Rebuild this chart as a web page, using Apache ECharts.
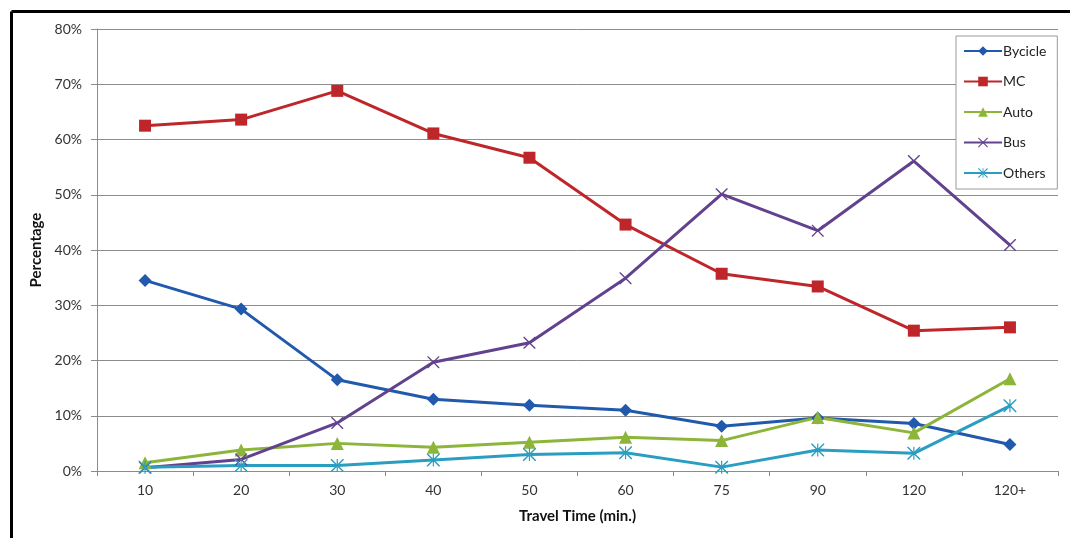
<!DOCTYPE html>
<html>
<head>
<meta charset="utf-8">
<script src="https://cdn.jsdelivr.net/npm/echarts@6/dist/echarts.min.js"></script>
<style>
  html, body { margin: 0; padding: 0; background: #fff; }
  #chart { width: 1070px; height: 538px; }
</style>
</head>
<body>
<div id="chart"></div>
<script>
// Travel time categories (minutes)
var categories = ['10', '20', '30', '40', '50', '60', '75', '90', '120', '120+'];

// Mode share by travel time (%)
var bycicle = [34.5, 29.3, 16.5, 13.0, 11.9, 11.0, 8.1, 9.6, 8.6, 4.8];
var mc      = [62.5, 63.6, 68.8, 61.1, 56.7, 44.6, 35.7, 33.4, 25.4, 26.0];
var auto    = [1.5, 3.8, 5.0, 4.3, 5.2, 6.1, 5.5, 9.7, 6.9, 16.7];
var bus     = [0.6, 2.1, 8.7, 19.7, 23.2, 34.9, 50.1, 43.5, 56.1, 40.9];
var others  = [0.7, 1.0, 1.0, 2.0, 3.0, 3.3, 0.7, 3.8, 3.2, 11.8];

var yTicks = [0, 10, 20, 30, 40, 50, 60, 70, 80];

// Marker shapes for the Bus (x) and Others (asterisk) series
var xPath = 'path://M0,0 L1.6,0 L10,8.4 L18.4,0 L20,0 L20,1.6 L11.6,10 L20,18.4 L20,20 L18.4,20 L10,11.6 L1.6,20 L0,20 L0,18.4 L8.4,10 L0,1.6 Z';
var starPath = xPath + ' M9.1,0 L10.9,0 L10.9,20 L9.1,20 Z';

var font = 'Lato, "Open Sans", sans-serif';

function makeSeries(name, data, color, symbol, size) {
  return {
    name: name,
    type: 'line',
    data: data,
    symbol: symbol,
    symbolSize: size,
    showAllSymbol: true,
    lineStyle: { color: color, width: 3 },
    itemStyle: { color: color },
    emphasis: { disabled: true },
    animation: false,
    z: 3
  };
}

var chart = echarts.init(document.getElementById('chart'), null, { renderer: 'canvas' });

chart.setOption({
  backgroundColor: '#ffffff',
  animation: false,
  grid: { left: 97, right: 12, top: 29, bottom: 67, containLabel: false },
  legend: {
    orient: 'vertical',
    left: 956,
    top: 36,
    padding: [8, 11, 9, 7],
    itemWidth: 38,
    itemHeight: 12,
    itemGap: 16.5,
    borderColor: '#9a9a9a',
    borderWidth: 1,
    backgroundColor: '#ffffff',
    textStyle: { fontFamily: font, fontSize: 14, lineHeight: 14, color: '#222', padding: [0, 0, 0, -4] },
    data: ['Bycicle', 'MC', 'Auto', 'Bus', 'Others']
  },
  xAxis: {
    type: 'category',
    data: categories,
    boundaryGap: true,
    name: 'Travel Time (min.)',
    nameLocation: 'middle',
    nameGap: 38,
    nameTextStyle: { fontFamily: font, fontSize: 15, fontWeight: 'bold', color: '#111' },
    axisLine: { lineStyle: { color: '#8c8c8c', width: 1 } },
    axisTick: { show: true, length: 5, lineStyle: { color: '#8c8c8c' } },
    axisLabel: { fontFamily: font, fontSize: 14, color: '#333', margin: 12 },
    splitLine: { show: false }
  },
  yAxis: {
    type: 'value',
    min: yTicks[0],
    max: yTicks[yTicks.length - 1],
    interval: 10,
    name: 'Percentage',
    nameLocation: 'middle',
    nameGap: 48,
    nameRotate: 90,
    nameTextStyle: { fontFamily: font, fontSize: 15, fontWeight: 'bold', color: '#111' },
    axisLine: { show: true, lineStyle: { color: '#8c8c8c', width: 1 } },
    axisTick: { show: true, length: 6, lineStyle: { color: '#8c8c8c' } },
    axisLabel: { fontFamily: font, fontSize: 14, color: '#333', margin: 15, formatter: '{value}%' },
    splitLine: { show: true, lineStyle: { color: '#8c8c8c', width: 1 } }
  },
  graphic: [
    { type: 'line', shape: { x1: 11.5, y1: 11.5, x2: 1070, y2: 11.5 }, style: { stroke: '#000', lineWidth: 3 }, z: 100 },
    { type: 'line', shape: { x1: 11.5, y1: 11.5, x2: 11.5, y2: 538 }, style: { stroke: '#000', lineWidth: 3 }, z: 100 }
  ],
  series: [
    makeSeries('Bycicle', bycicle, '#2159ad', 'diamond', 13),
    makeSeries('MC', mc, '#bf262a', 'rect', 12),
    makeSeries('Auto', auto, '#8cb53a', 'triangle', 13),
    makeSeries('Bus', bus, '#62418f', xPath, 12),
    makeSeries('Others', others, '#2a9ec0', starPath, 13)
  ]
});
</script>
</body>
</html>
